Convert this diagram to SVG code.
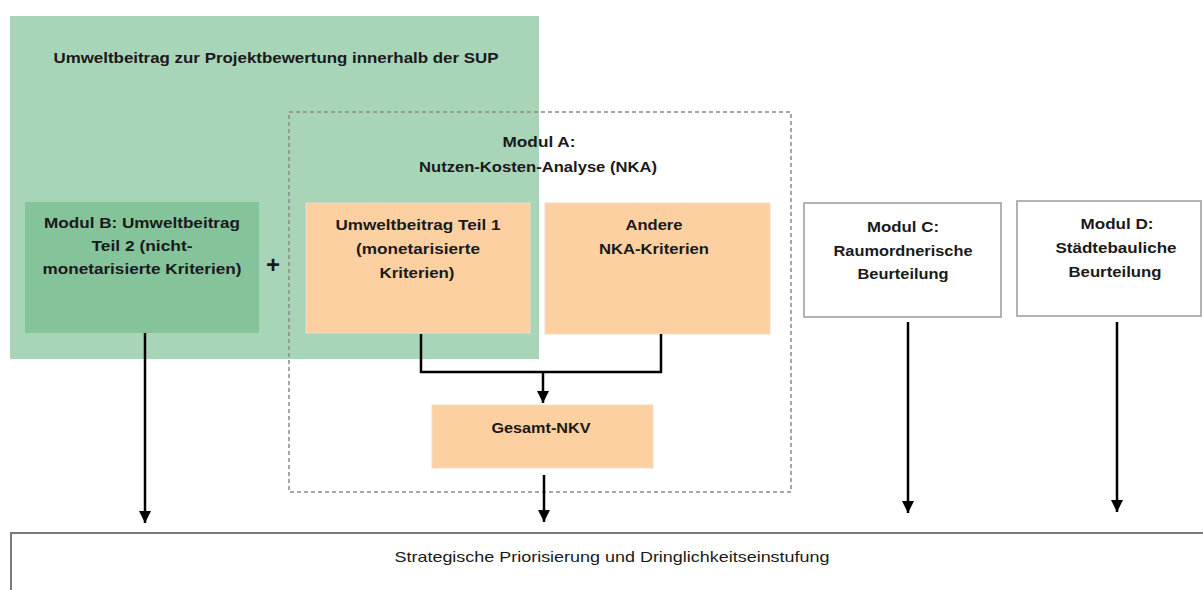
<svg xmlns="http://www.w3.org/2000/svg" width="1203" height="590" viewBox="0 0 1203 590">
<defs>
<marker id="ah" markerUnits="userSpaceOnUse" markerWidth="12" markerHeight="12" viewBox="0 0 12 12" refX="12" refY="6" orient="auto">
<path d="M0,0 L12,6 L0,12 Z" fill="#000"/>
</marker>
</defs>
<style>
text{font-family:"Liberation Sans",Arial,sans-serif;font-size:15px;font-weight:bold;fill:#1a1a1a;text-anchor:middle}
.reg{font-weight:normal}
.orange{fill:#FDD0A2;stroke:#F2DCC8;stroke-width:1}
.white{fill:#fff;stroke:#9a9a9a;stroke-width:1.5}
.conn{fill:none;stroke:#000;stroke-width:2.5}
</style>
<g id="umweltbeitrag-gruppe">
<rect x="10" y="16" width="529" height="343" fill="#A8D4B8"/>
<text x="276" y="63" textLength="445" lengthAdjust="spacingAndGlyphs">Umweltbeitrag zur Projektbewertung innerhalb der SUP</text>
</g>
<g id="modul-a">
<rect x="289" y="112" width="502" height="380" fill="none" stroke="#8a8a8a" stroke-width="1.5" stroke-dasharray="4,3"/>
<text x="539" y="147" textLength="73" lengthAdjust="spacingAndGlyphs">Modul A:</text>
<text x="538" y="172" textLength="238" lengthAdjust="spacingAndGlyphs">Nutzen-Kosten-Analyse (NKA)</text>
</g>
<g id="modul-b">
<rect x="25" y="202" width="234" height="131" fill="#85C39A"/>
<text x="142" y="228" textLength="196" lengthAdjust="spacingAndGlyphs">Modul B: Umweltbeitrag</text>
<text x="142" y="251" textLength="101" lengthAdjust="spacingAndGlyphs">Teil 2 (nicht-</text>
<text x="142" y="274" textLength="199" lengthAdjust="spacingAndGlyphs">monetarisierte Kriterien)</text>
</g>
<g id="plus">
<text x="273" y="273" style="font-size:24px">+</text>
</g>
<g id="umweltbeitrag-teil1">
<rect class="orange" x="306" y="203" width="224" height="130"/>
<text x="418" y="230" textLength="165" lengthAdjust="spacingAndGlyphs">Umweltbeitrag Teil 1</text>
<text x="418" y="254" textLength="124" lengthAdjust="spacingAndGlyphs">(monetarisierte</text>
<text x="417" y="278" textLength="75" lengthAdjust="spacingAndGlyphs">Kriterien)</text>
</g>
<g id="andere">
<rect class="orange" x="545" y="203" width="225" height="131"/>
<text x="654" y="230" textLength="57" lengthAdjust="spacingAndGlyphs">Andere</text>
<text x="654" y="254" textLength="110" lengthAdjust="spacingAndGlyphs">NKA-Kriterien</text>
</g>
<g id="gesamt-nkv">
<rect class="orange" x="432" y="405" width="221" height="63"/>
<text x="541" y="433" textLength="99" lengthAdjust="spacingAndGlyphs">Gesamt-NKV</text>
</g>
<g id="modul-c">
<rect class="white" x="804" y="203" width="197" height="114"/>
<text x="903" y="232" textLength="72" lengthAdjust="spacingAndGlyphs">Modul C:</text>
<text x="903" y="256" textLength="139" lengthAdjust="spacingAndGlyphs">Raumordnerische</text>
<text x="903" y="279" textLength="91" lengthAdjust="spacingAndGlyphs">Beurteilung</text>
</g>
<g id="modul-d">
<rect class="white" x="1017" y="201" width="184" height="115"/>
<text x="1117" y="229" textLength="73" lengthAdjust="spacingAndGlyphs">Modul D:</text>
<text x="1116" y="253" textLength="121" lengthAdjust="spacingAndGlyphs">Städtebauliche</text>
<text x="1115" y="277" textLength="93" lengthAdjust="spacingAndGlyphs">Beurteilung</text>
</g>
<g id="priorisierung">
<rect x="11" y="533" width="1200" height="80" fill="#fff" stroke="#7a7a7a" stroke-width="2"/>
<text class="reg" x="612" y="562" textLength="435" lengthAdjust="spacingAndGlyphs">Strategische Priorisierung und Dringlichkeitseinstufung</text>
</g>
<g id="connectors">
<path class="conn" d="M145,333 V523" marker-end="url(#ah)"/>
<path class="conn" d="M421,334 V372 H661 V334"/>
<path class="conn" d="M543,372 V403" marker-end="url(#ah)"/>
<path class="conn" d="M544,475 V522" marker-end="url(#ah)"/>
<path class="conn" d="M908,322 V513" marker-end="url(#ah)"/>
<path class="conn" d="M1117,322 V512" marker-end="url(#ah)"/>
</g>
</svg>
